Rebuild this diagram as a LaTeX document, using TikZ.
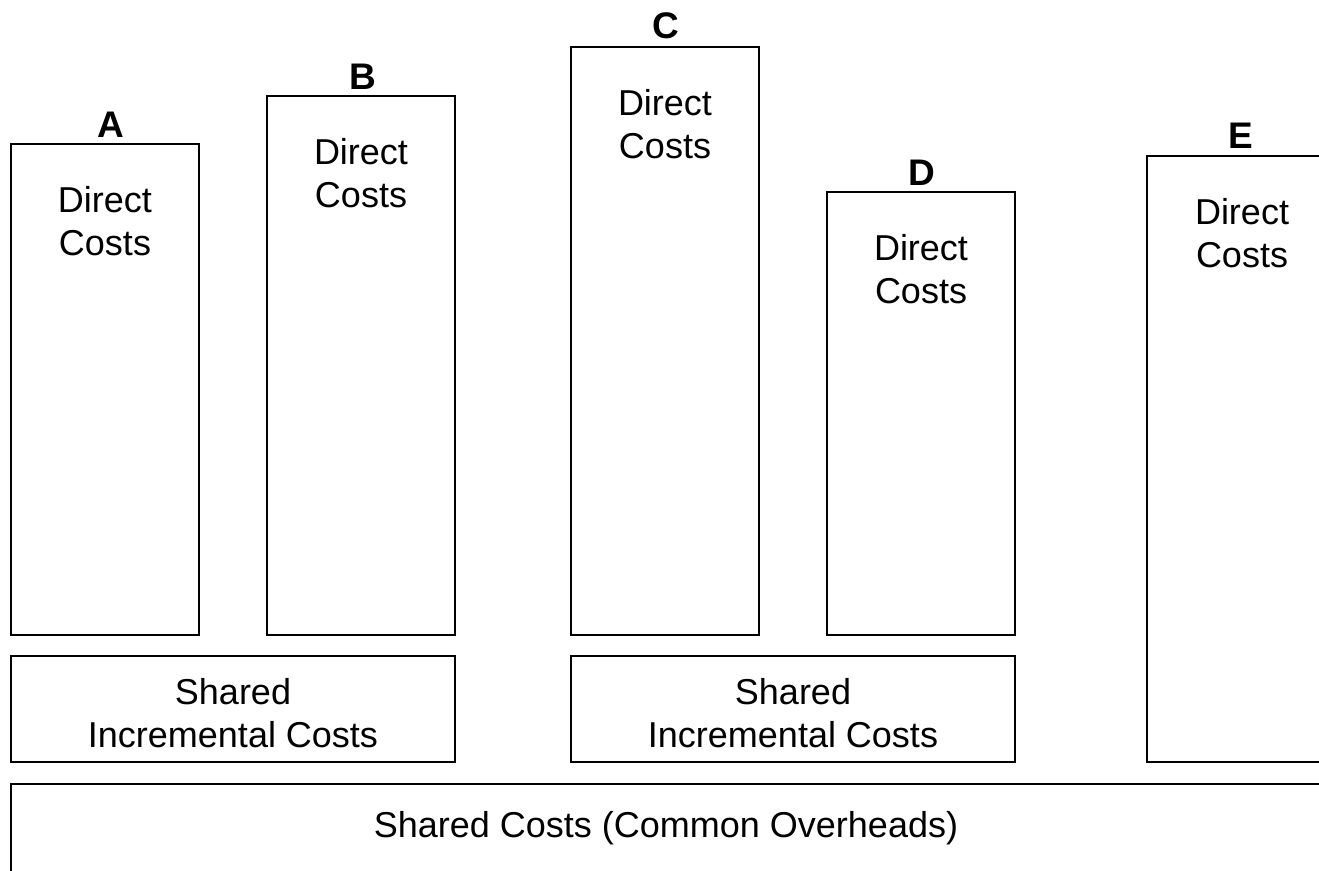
\documentclass[tikz,border=0pt]{standalone}
\usepackage{fontspec}
\setmainfont{Liberation Sans}
\begin{document}
\begin{tikzpicture}[x=1pt,y=-1pt,
  box/.style={draw=black,line width=2pt,rectangle,inner sep=0pt,outer sep=0pt,anchor=north west},
  txt/.style={align=center,font=\fontsize{36}{43}\selectfont,inner sep=0pt},
  lbl/.style={font=\fontsize{37}{40}\selectfont\bfseries,inner sep=0pt}]
\useasboundingbox (0,0) rectangle (1319,870);
\clip (0,0) rectangle (1319,870);
% direct cost columns
\node[box,minimum width=188pt,minimum height=491pt] (A) at (11,144) {};
\node[box,minimum width=188pt,minimum height=539pt] (B) at (267,96) {};
\node[box,minimum width=188pt,minimum height=588pt] (C) at (571,47) {};
\node[box,minimum width=188pt,minimum height=443pt] (D) at (827,192) {};
\node[box,minimum width=190pt,minimum height=606pt] (E) at (1147,156) {};
% shared incremental and common cost blocks
\node[box,minimum width=444pt,minimum height=106pt] (S1) at (11,656) {};
\node[box,minimum width=444pt,minimum height=106pt] (S2) at (571,656) {};
\node[box,minimum width=1340pt,minimum height=120pt] (SC) at (11,784) {};
% column letters
\node[lbl] (lA) at (111,125) {A};
\node[lbl] (lB) at (363,77) {B};
\node[lbl] (lC) at (666,26) {C};
\node[lbl] (lD) at (922,173) {D};
\node[lbl] (lE) at (1241,136) {E};
% texts
\node[txt] (tA) at (105,221) {Direct\\Costs};
\node[txt] (tB) at (361,173) {Direct\\Costs};
\node[txt] (tC) at (665,124) {Direct\\Costs};
\node[txt] (tD) at (921,269) {Direct\\Costs};
\node[txt] (tE) at (1242,233) {Direct\\Costs};
\node[txt] (tS1) at (233,713) {Shared\\Incremental Costs};
\node[txt] (tS2) at (793,713) {Shared\\Incremental Costs};
\node[txt] (tSC) at (666,828) {Shared Costs (Common Overheads)};
\end{tikzpicture}
\end{document}
